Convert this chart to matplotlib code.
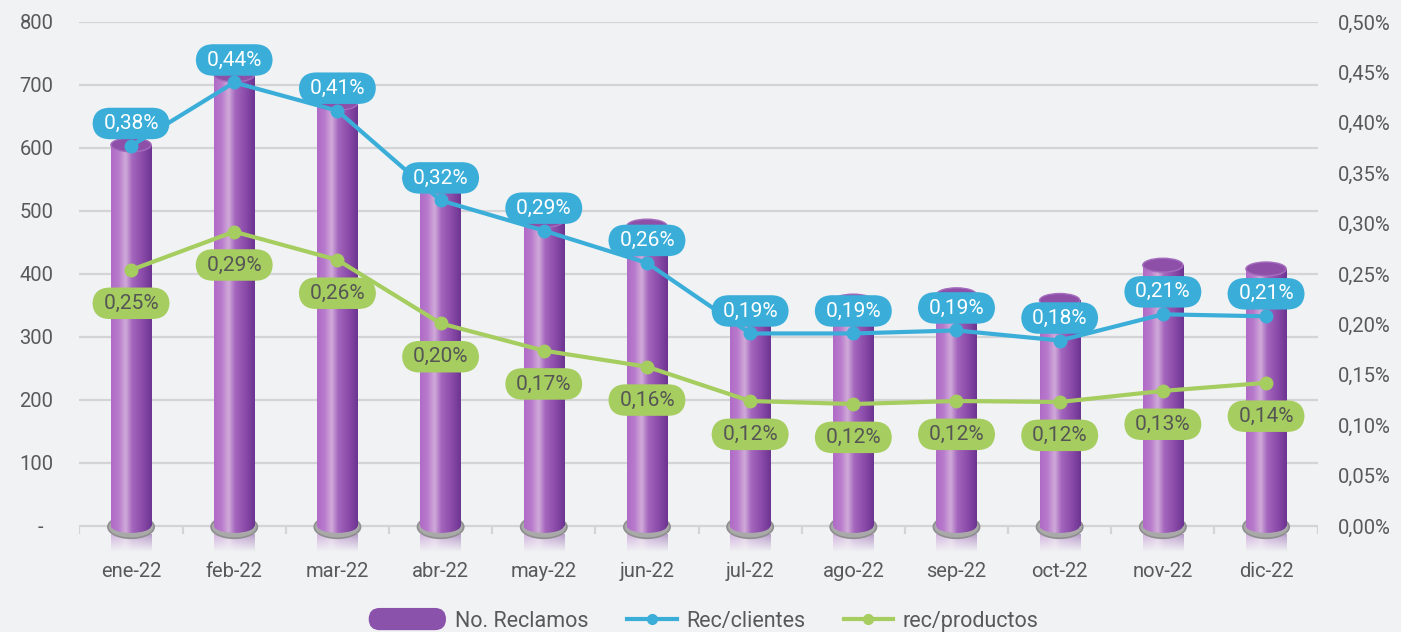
import numpy as np
import matplotlib
matplotlib.use('Agg')
import matplotlib.pyplot as plt
from matplotlib.colors import LinearSegmentedColormap
from matplotlib.patches import Ellipse, FancyBboxPatch, Patch
from matplotlib.lines import Line2D
from matplotlib.legend_handler import HandlerPatch

plt.rcParams['font.family'] = ['Roboto', 'DejaVu Sans']

# %% DATA
months = ['ene-22', 'feb-22', 'mar-22', 'abr-22', 'may-22', 'jun-22',
          'jul-22', 'ago-22', 'sep-22', 'oct-22', 'nov-22', 'dic-22']
reclamos = [605, 716, 671, 540, 485, 476, 330, 357, 367, 358, 414, 408]
rec_clientes = [0.377, 0.440, 0.412, 0.323, 0.293, 0.261, 0.191, 0.191, 0.194, 0.184, 0.210, 0.208]
rec_productos = [0.254, 0.292, 0.264, 0.201, 0.174, 0.158, 0.124, 0.121, 0.124, 0.123, 0.134, 0.142]

# %% STYLE
BG = '#f1f2f4'
GRID = '#d4d4d6'
TXT = '#595959'
BLUE = '#3aaed9'
GREEN = '#a6cd5f'
bw = 0.39          # bar width (category units)
cap_h = 22         # ellipse height, left axis units

cyl = LinearSegmentedColormap.from_list('cyl', [
    (0.00, '#b06bc7'), (0.18, '#b87acc'), (0.36, '#d0aad9'),
    (0.52, '#a466be'), (0.78, '#8a4aa8'), (1.00, '#6c3491')])

fig = plt.figure(figsize=(14.01, 6.32), dpi=100, facecolor=BG)
ax = fig.add_axes([0.0567, 0.088, 0.8838, 0.8772], facecolor=BG)
ax2 = ax.twinx()

x = np.arange(len(months))

# grid
ax.set_yticks(range(0, 801, 100))
ax.set_yticklabels(['-  '] + [str(v) for v in range(100, 801, 100)])
ax.yaxis.grid(True, color=GRID, lw=1.6)
ax.set_axisbelow(True)
ax.vlines(np.arange(-0.5, len(months)), -13, 0, color=GRID, lw=1.6, zorder=0)
for a in (ax, ax2):
    for s in a.spines.values():
        s.set_visible(False)

# %% CYLINDERS
grad = np.linspace(0, 1, 256).reshape(1, -1)
bars = ax.bar(x, reclamos, width=bw, facecolor='none', edgecolor='none', zorder=2)
for i, (b, h) in enumerate(zip(bars, reclamos)):
    x0, x1 = i - bw / 2, i + bw / 2
    # reflection under the base
    refl = np.zeros((40, 256, 4))
    refl[:, :, :3] = cyl(grad[0])[:, :3]
    refl[:, :, 3] = np.linspace(0.45, 0.0, 40)[:, None]
    ax.imshow(refl, extent=(x0, x1, -42, -14), aspect='auto', zorder=1,
              interpolation='bilinear')
    # base ring
    ax.add_patch(Ellipse((i, -1.5), bw * 1.15, 36, facecolor='#a9a9a9',
                         edgecolor='#8e8e8e', lw=1.2, zorder=2))
    # body
    im = ax.imshow(grad, cmap=cyl, extent=(x0, x1, 0, h), aspect='auto', zorder=3)
    im.set_clip_path(b)
    bot = Ellipse((i, 0), bw, cap_h, facecolor='none', edgecolor='none')
    ax.add_patch(bot)
    im2 = ax.imshow(grad, cmap=cyl, extent=(x0, x1, -cap_h / 2, cap_h / 2),
                    aspect='auto', zorder=3)
    im2.set_clip_path(bot)
    # top cap
    ax.add_patch(Ellipse((i, h), bw, cap_h, facecolor='#8e4fa9',
                         edgecolor='#a46cbd', lw=1, zorder=4))
ax.set_xlim(-0.5, len(months) - 0.5)
ax.set_ylim(-80, 800)
ax2.set_ylim(-0.05, 0.5)

# %% LINES
ax2.plot(x, rec_clientes, color=BLUE, lw=3, marker='o', ms=9, zorder=5)
ax2.plot(x, rec_productos, color=GREEN, lw=3, marker='o', ms=9, zorder=5)

def pct(v):
    return f'{v:.2f}%'.replace('.', ',')

box = 'round,pad=0.3,rounding_size=0.85'
for i, v in enumerate(rec_clientes):
    ax2.annotate(' ' + pct(v) + ' ', (i, v), xytext=(0, 16.2), textcoords='offset points',
                 ha='center', va='center', fontsize=15, color='white', zorder=6,
                 bbox=dict(boxstyle=box, facecolor=BLUE, edgecolor='none'))
for i, v in enumerate(rec_productos):
    ax2.annotate(' ' + pct(v) + ' ', (i, v), xytext=(0, -24), textcoords='offset points',
                 ha='center', va='center', fontsize=15, color='#555555', zorder=6,
                 bbox=dict(boxstyle=box, facecolor=GREEN, edgecolor='none'))

# %% AXES
ax.set_xticks(x)
ax.set_xticklabels(months)
ax.tick_params(axis='x', length=0, pad=-10, labelsize=14.5, labelcolor=TXT)
ax.tick_params(axis='y', length=0, pad=18.7, labelsize=14.5, labelcolor=TXT)
ax2.set_yticks(np.arange(0, 0.51, 0.05))
ax2.set_yticklabels([pct(v) for v in np.arange(0, 0.51, 0.05)])
ax2.tick_params(axis='y', length=0, pad=14.4, labelsize=14.5, labelcolor=TXT)

# %% LEGEND
def pill(legend, orig_handle, xdescent, ydescent, width, height, fontsize):
    hh = 16
    return FancyBboxPatch((-xdescent - 20, -ydescent + height / 2 - hh / 2), width + 20, hh,
                          boxstyle=f'round,pad=0,rounding_size={hh / 2}')

handles = [Patch(facecolor='#8a52aa', edgecolor='none'),
           Line2D([], [], color=BLUE, lw=3, marker='o', ms=7),
           Line2D([], [], color=GREEN, lw=3, marker='o', ms=7)]
fig.legend(handles, ['No. Reclamos', 'Rec/clientes', 'rec/productos'],
           loc='lower center', bbox_to_anchor=(0.512, -0.03), ncol=3, frameon=False,
           fontsize=15.5, labelcolor=TXT, handlelength=2.3, handletextpad=0.42,
           columnspacing=1.8, handler_map={Patch: HandlerPatch(patch_func=pill)})

fig.savefig('out.png', dpi=100, facecolor=BG)
